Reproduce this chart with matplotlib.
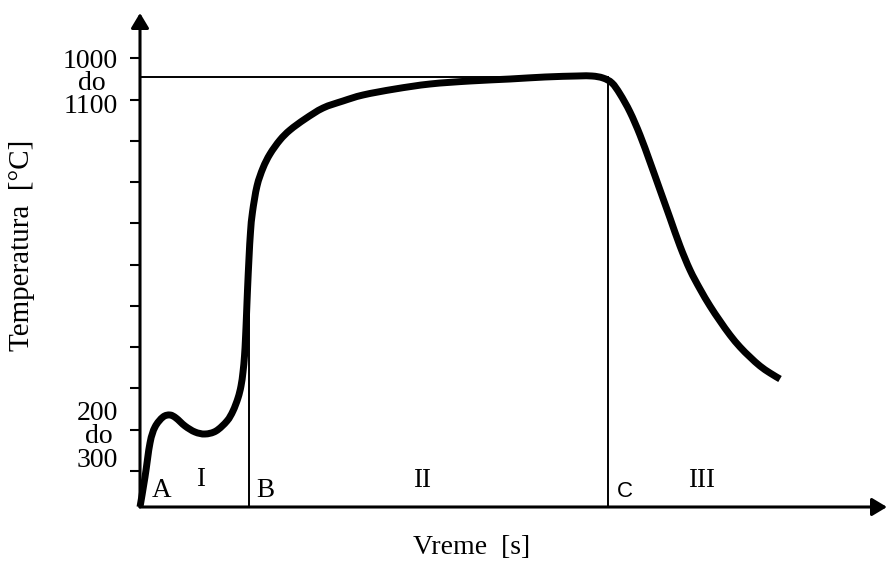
import matplotlib
matplotlib.use("Agg")
import matplotlib.pyplot as plt
from matplotlib.path import Path
from matplotlib.patches import PathPatch
import numpy as np

# Schematic curve (time units, temperature units on a schematic scale)
time = [0, 5, 10, 15, 23, 30, 36, 45, 55, 65, 76, 87, 93, 98, 101, 103, 104.5,
        105.5, 106.5, 107.5, 109, 110.5, 112.5, 117, 123, 130, 140, 150, 165, 183,
        203, 223, 255, 290, 330, 370, 405, 437, 452, 463, 472, 480, 490, 500, 510,
        520, 530, 540, 550, 560, 570, 580, 590, 600, 610, 620, 630, 640]
temp = [0, 30, 64, 80, 90, 92, 89, 81, 75, 73, 76, 86, 96, 109, 121, 135, 151,
        169, 192, 217, 249, 275, 295, 321, 339, 353, 367, 377, 388, 399,
        406, 412, 418, 423, 426, 428, 430, 431, 431, 429, 424, 413, 395, 372, 345,
        317, 289, 261, 237, 218, 201, 186, 172, 160, 150, 141, 134, 128]

y_ticks = [449, 407, 366, 325, 284, 242, 201, 160, 119, 77, 36]
top_level = 430          # 1000-1100 plateau line
x_B = 109                # end of stage I
x_C = 468                # end of stage II
B_top = 220
C_top = 426

serif = "Liberation Serif"
sans = "Liberation Sans"

fig = plt.figure(figsize=(8.87, 5.62), dpi=100)
W, H = 887, 562
ax = fig.add_axes([140 / W, 55 / H, 747 / W, 494 / H])
ax.set_xlim(0, 747)
ax.set_ylim(0, 494)
for s in ax.spines.values():
    s.set_visible(False)
ax.set_xticks([])
ax.set_yticks(y_ticks)
ax.set_yticklabels([])
ax.tick_params(axis="y", direction="out", length=7.5, width=1.5, color="black")

# axes with arrows
arrow = dict(arrowstyle="-|>,head_length=0.45,head_width=0.27", lw=2.2,
             color="black", mutation_scale=20, shrinkA=0, shrinkB=0)
ax.annotate("", xy=(0, 494), xytext=(0, 0), arrowprops=arrow, annotation_clip=False)
ax.annotate("", xy=(747, 0), xytext=(0, 0), arrowprops=arrow, annotation_clip=False)

# thin guide lines
ax.plot([0, x_C], [top_level, top_level], color="black", lw=1.4, clip_on=False)
ax.plot([x_B, x_B], [0, B_top], color="black", lw=1.4, clip_on=False)
ax.plot([x_C, x_C], [0, C_top], color="black", lw=1.4, clip_on=False)

# main curve: smooth Catmull-Rom bezier through the read points
P = np.column_stack([time, temp]).astype(float)
verts = [tuple(P[0])]
codes = [Path.MOVETO]
n = len(P)
for i in range(n - 1):
    p0 = P[i - 1] if i > 0 else P[i]
    p1, p2 = P[i], P[i + 1]
    p3 = P[i + 2] if i + 2 < n else P[i + 1]
    c1 = p1 + (p2 - p0) / 6.0
    c2 = p2 - (p3 - p1) / 6.0
    verts += [tuple(c1), tuple(c2), tuple(p2)]
    codes += [Path.CURVE4] * 3
patch = PathPatch(Path(verts, codes), facecolor="none", edgecolor="black", lw=5,
                  joinstyle="round", capstyle="butt", clip_on=False, zorder=5)
ax.add_patch(patch)

# tick label groups
fs = 20
for txt, x, y, ha in [("1000", -22, 439, "right"), ("do", -48, 417, "center"),
                      ("1100", -22, 394, "right"), ("200", -22, 87, "right"),
                      ("do", -41, 64, "center"), ("300", -22, 40, "right")]:
    ax.text(x, y, txt, ha=ha, va="baseline", fontsize=fs, family=serif, clip_on=False)

# region labels
for txt, x, y in [("A", 22, 10), ("I", 61, 21), ("B", 125, 10),
                  ("II", 282, 20), ("III", 562, 20)]:
    ax.text(x, y, txt, ha="center", va="baseline", fontsize=19.5, family=serif)
ax.text(485, 10, "C", ha="center", va="baseline", fontsize=16, family=sans)

# axis labels
ax.text(332, -47, "Vreme  [s]", ha="center", va="baseline", fontsize=20,
        family=serif, clip_on=False)
ax.text(-118, 262, "Temperatura  [°C]", ha="center", va="center", rotation=90,
        fontsize=21, family=serif, clip_on=False)

fig.savefig("out.png", dpi=100)
